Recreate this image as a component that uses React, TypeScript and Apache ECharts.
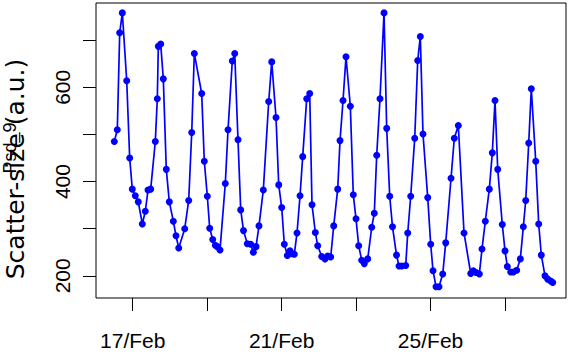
import React, { useEffect, useRef } from "react";
import * as echarts from "echarts";

// Time in decimal days of February, and the measured values
const days: number[] = [
  16.506, 16.586, 16.651, 16.721, 16.839, 16.919, 16.989, 17.07, 17.15, 17.258,
  17.338, 17.411, 17.483, 17.607, 17.661, 17.688, 17.752, 17.822, 17.902, 17.983,
  18.091, 18.163, 18.236, 18.397, 18.504, 18.585, 18.655, 18.853, 18.923, 19.004,
  19.068, 19.149, 19.219, 19.272, 19.345, 19.487, 19.56, 19.675, 19.74, 19.828,
  19.901, 19.976, 20.078, 20.169, 20.239, 20.312, 20.392, 20.508, 20.653, 20.734,
  20.849, 20.922, 21.002, 21.072, 21.153, 21.225, 21.279, 21.341, 21.413, 21.494,
  21.566, 21.674, 21.754, 21.816, 21.905, 21.969, 22.077, 22.165, 22.238, 22.318,
  22.399, 22.506, 22.568, 22.649, 22.729, 22.845, 22.925, 22.998, 23.07, 23.151,
  23.221, 23.312, 23.42, 23.489, 23.554, 23.642, 23.75, 23.822, 23.903, 23.978,
  24.086, 24.153, 24.225, 24.333, 24.387, 24.467, 24.575, 24.655, 24.725, 24.797,
  24.924, 25.004, 25.066, 25.147, 25.227, 25.327, 25.407, 25.55, 25.638, 25.746,
  25.899, 26.079, 26.149, 26.221, 26.31, 26.382, 26.471, 26.578, 26.659, 26.731,
  26.804, 26.927, 27.0, 27.062, 27.153, 27.223, 27.314, 27.411, 27.492, 27.556,
  27.637, 27.706, 27.825, 27.905, 27.975, 28.074, 28.147, 28.228, 28.281,
];

const scatterSize: number[] = [
  485, 510, 716, 758, 614, 450, 384, 370, 357, 310,
  337, 382, 384, 485, 576, 687, 692, 618, 426, 357,
  316, 285, 259, 300, 360, 504, 672, 587, 443, 369,
  301, 277, 265, 262, 255, 396, 510, 656, 672, 489,
  340, 296, 268, 267, 250, 262, 306, 382, 570, 654,
  536, 393, 345, 267, 243, 253, 247, 246, 291, 370,
  453, 576, 587, 351, 292, 264, 241, 236, 242, 240,
  306, 384, 487, 572, 665, 560, 372, 321, 264, 233,
  226, 236, 303, 333, 456, 576, 758, 513, 369, 304,
  244, 221, 221, 222, 291, 369, 492, 657, 708, 501,
  366, 267, 211, 177, 177, 204, 270, 407, 492, 519,
  291, 205, 211, 207, 204, 257, 316, 384, 461, 572,
  426, 309, 253, 220, 208, 208, 212, 236, 304, 360,
  482, 597, 443, 310, 244, 200, 193, 189, 186,
];

const xTickDays: number[] = [17, 19, 21, 23, 25, 27];
const xLabelDays: number[] = [17, 21, 25];
const yTicks: number[] = [200, 300, 400, 500, 600, 700];
const yLabels: number[] = [200, 400, 600];

const yTitle = "Scatter-size (a.u.)";
const overTitle = "Psd_9";

export default function App() {
  const ref = useRef<HTMLDivElement>(null);
  useEffect(() => {
    if (!ref.current) return;
    const chart = echarts.init(ref.current, null, { renderer: "svg" });
    const labelFont = "'Liberation Sans', Arial, sans-serif";
    chart.setOption({
      animation: false,
      backgroundColor: "#ffffff",
      grid: {
        left: 96,
        right: 2,
        top: 3,
        bottom: 63,
        show: true,
        borderColor: "#000000",
        borderWidth: 1,
        backgroundColor: "transparent",
      },
      xAxis: {
        type: "value",
        min: 16.014,
        max: 28.638,
        axisLine: { show: false },
        splitLine: { show: false },
        axisTick: {
          show: true,
          length: 13,
          customValues: xTickDays,
          lineStyle: { color: "#000000", width: 1 },
        },
        axisLabel: {
          customValues: xLabelDays,
          formatter: (v: number) => `${Math.round(v)}/Feb`,
          fontSize: 21,
          fontFamily: labelFont,
          color: "#000000",
          margin: 32,
        },
      },
      yAxis: {
        type: "value",
        min: 153,
        max: 779,
        axisLine: { show: false },
        splitLine: { show: false },
        axisTick: {
          show: true,
          length: 13,
          customValues: yTicks,
          lineStyle: { color: "#000000", width: 1 },
        },
        axisLabel: {
          customValues: yLabels,
          rotate: 90,
          fontSize: 21,
          fontFamily: labelFont,
          color: "#000000",
          margin: 23,
        },
      },
      series: [
        {
          type: "line",
          data: days.map((d, i) => [d, scatterSize[i]]),
          symbol: "circle",
          symbolSize: 7,
          showSymbol: true,
          itemStyle: { color: "#0000ff" },
          lineStyle: { color: "#0000ff", width: 1.7 },
        },
      ],
      graphic: [
        {
          type: "text",
          x: 15,
          y: 169,
          rotation: Math.PI / 2,
          style: {
            text: yTitle,
            fontSize: 25,
            fontFamily: "'DejaVu Sans', sans-serif",
            fill: "#000000",
            align: "center",
            verticalAlign: "middle",
          },
        },
        {
          type: "text",
          x: 10,
          y: 148,
          rotation: Math.PI / 2,
          style: {
            text: overTitle,
            fontSize: 18,
            fontFamily: labelFont,
            fill: "#000000",
            align: "center",
            verticalAlign: "middle",
          },
        },
      ],
    });
    return () => chart.dispose();
  }, []);
  return (
    <div
      ref={ref}
      style={{ position: "fixed", left: 0, top: 0, width: 568, height: 361 }}
    />
  );
}
